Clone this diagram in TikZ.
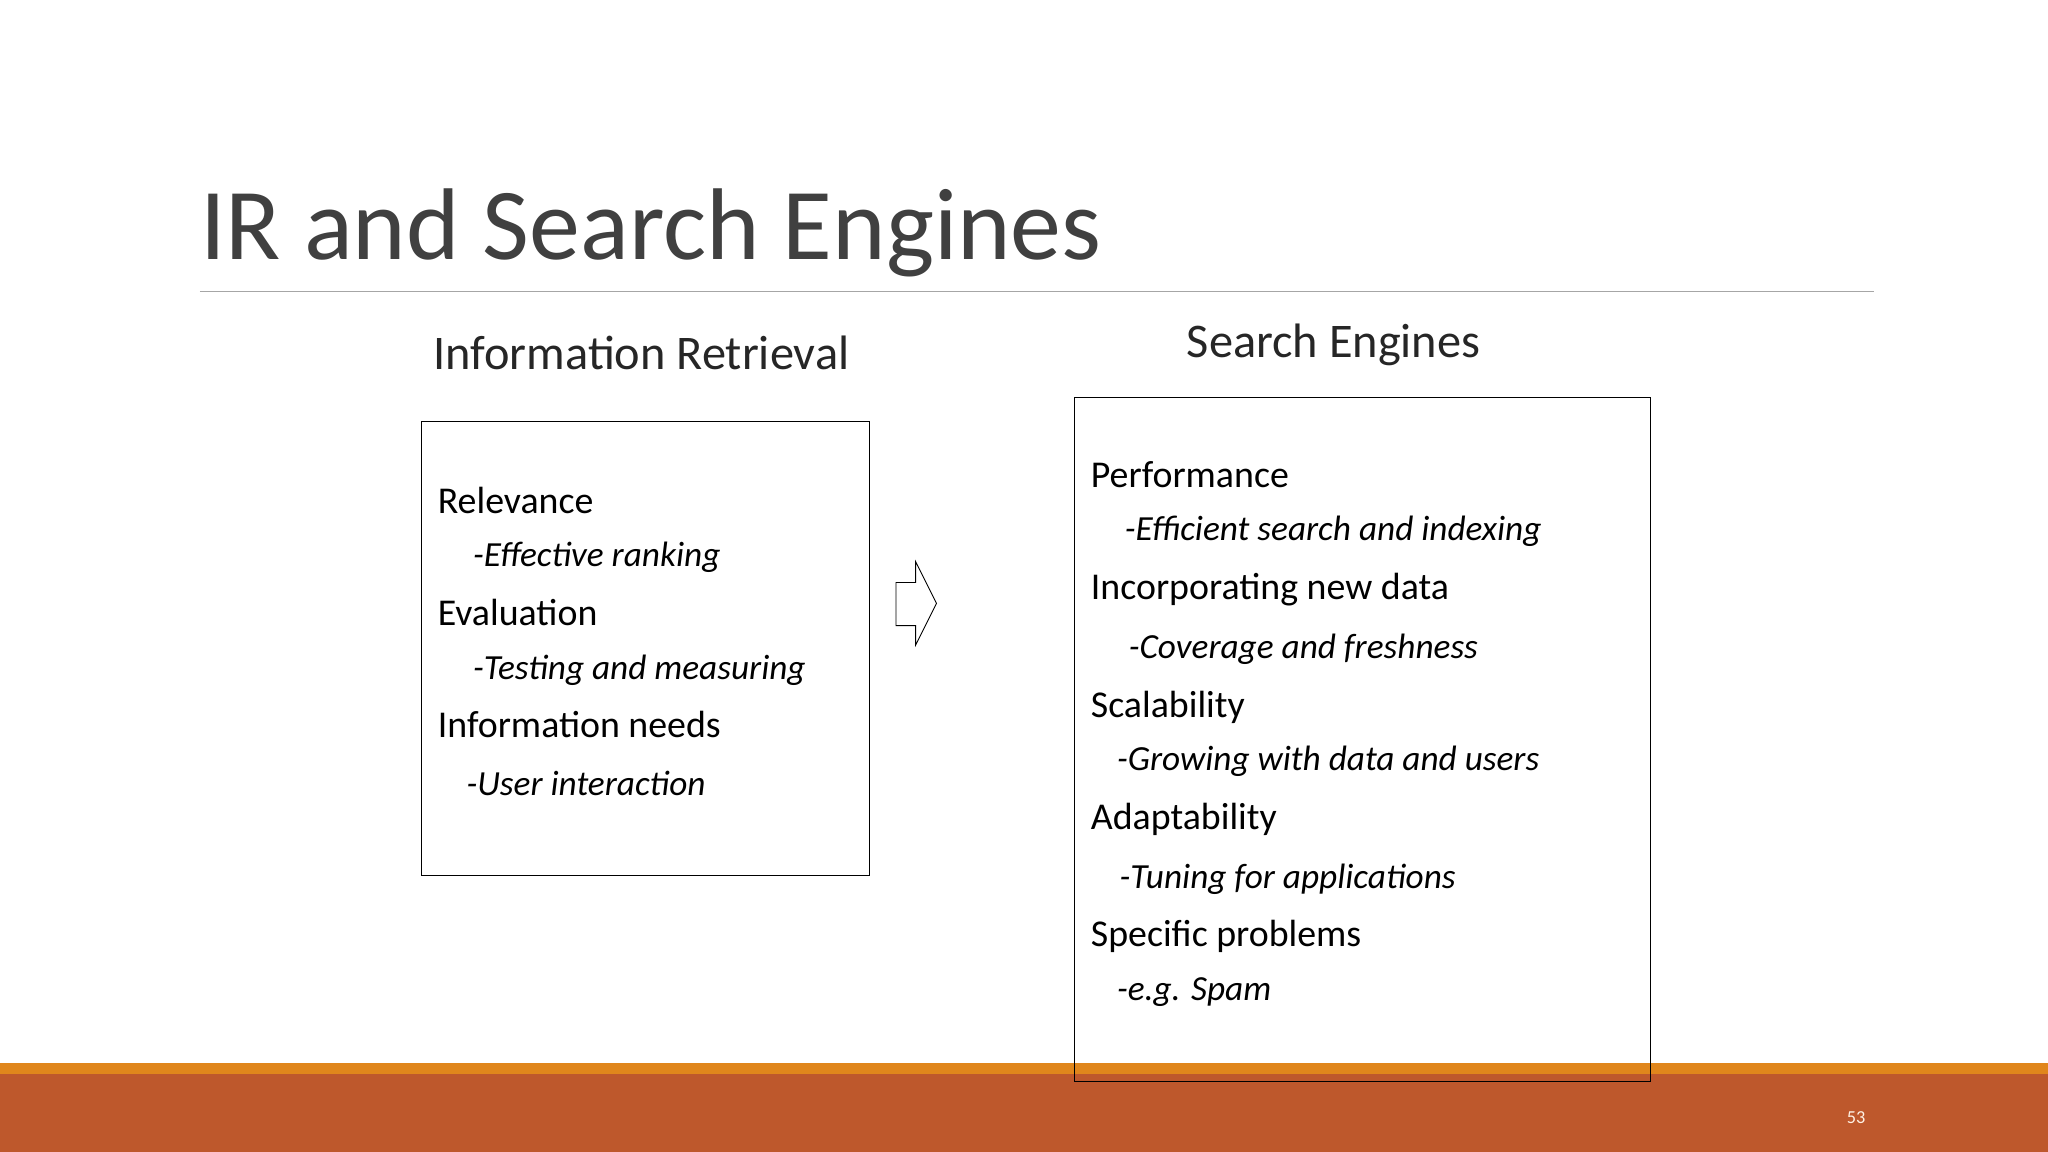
\documentclass[tikz,border=0pt]{standalone}
\usepackage{fontspec}
\setmainfont{Carlito}
\begin{document}
\begin{tikzpicture}[x=1pt,y=-1pt,
  head/.style={anchor=base west,inner sep=0pt,font=\fontsize{29}{30}\selectfont,text=black},
  sub/.style={anchor=base west,inner sep=0pt,font=\fontsize{27}{28}\selectfont\itshape,text=black},
  frame/.style={draw=black,line width=0.8pt}]
\useasboundingbox (0,0) rectangle (1568,882);
\fill[white] (0,0) rectangle (1568,882);
\fill[orange!85!yellow!90!black] (0,814) rectangle (1568,822);
\fill[red!45!orange!80!black!95] (0,822) rectangle (1568,882);
\definecolor{barc}{HTML}{BE582C}\definecolor{stripc}{HTML}{E0861C}
\fill[stripc] (0,814) rectangle (1568,822);
\fill[barc] (0,822) rectangle (1568,882);
\node[anchor=base,inner sep=0pt,text=white!90!orange,font=\fontsize{14}{15}\selectfont] (pg) at (1421,860) {53};
\node[anchor=base west,inner sep=0pt,text=black!75,font=\fontsize{78}{80}\selectfont] (title) at (153,199) {IR and Search Engines};
\draw[black!35,line width=1pt] (153,223) -- (1435,223);
\node[anchor=base,inner sep=0pt,text=black!85,font=\fontsize{37}{38}\selectfont] (ir) at (491,283) {Information Retrieval};
\node[anchor=base,inner sep=0pt,text=black!85,font=\fontsize{37}{38}\selectfont] (se) at (1021,274) {Search Engines};
\draw[frame] (323,323) rectangle (666,670);
\draw[frame] (823,304) rectangle (1264,828);
\draw[black,line width=0.7pt] (686,446) -- (701,446) -- (701,430) -- (717,462) -- (701,494) -- (701,479) -- (686,479) -- cycle;
\node[head] (a1) at (335,393) {Relevance};
\node[sub] (a2) at (362,434) {-Effective ranking};
\node[head] (a3) at (335,479) {Evaluation};
\node[sub] (a4) at (362,520) {-Testing and measuring};
\node[head] (a5) at (335,565) {Information needs};
\node[sub] (a6) at (357,609) {-User interaction};
\node[head] (b1) at (835,373) {Performance};
\node[sub] (b2) at (861,414) {-Efficient search and indexing};
\node[head] (b3) at (835,459) {Incorporating new data};
\node[sub] (b4) at (864,504) {-Coverage and freshness};
\node[head] (b5) at (835,549) {Scalability};
\node[sub] (b6) at (855,590) {-Growing with data and users};
\node[head] (b7) at (835,635) {Adaptability};
\node[sub] (b8) at (857,680) {-Tuning for applications};
\node[head] (b9) at (835,725) {Specific problems};
\node[sub] (b10) at (855,766) {-e.g. Spam};
\end{tikzpicture}
\end{document}
